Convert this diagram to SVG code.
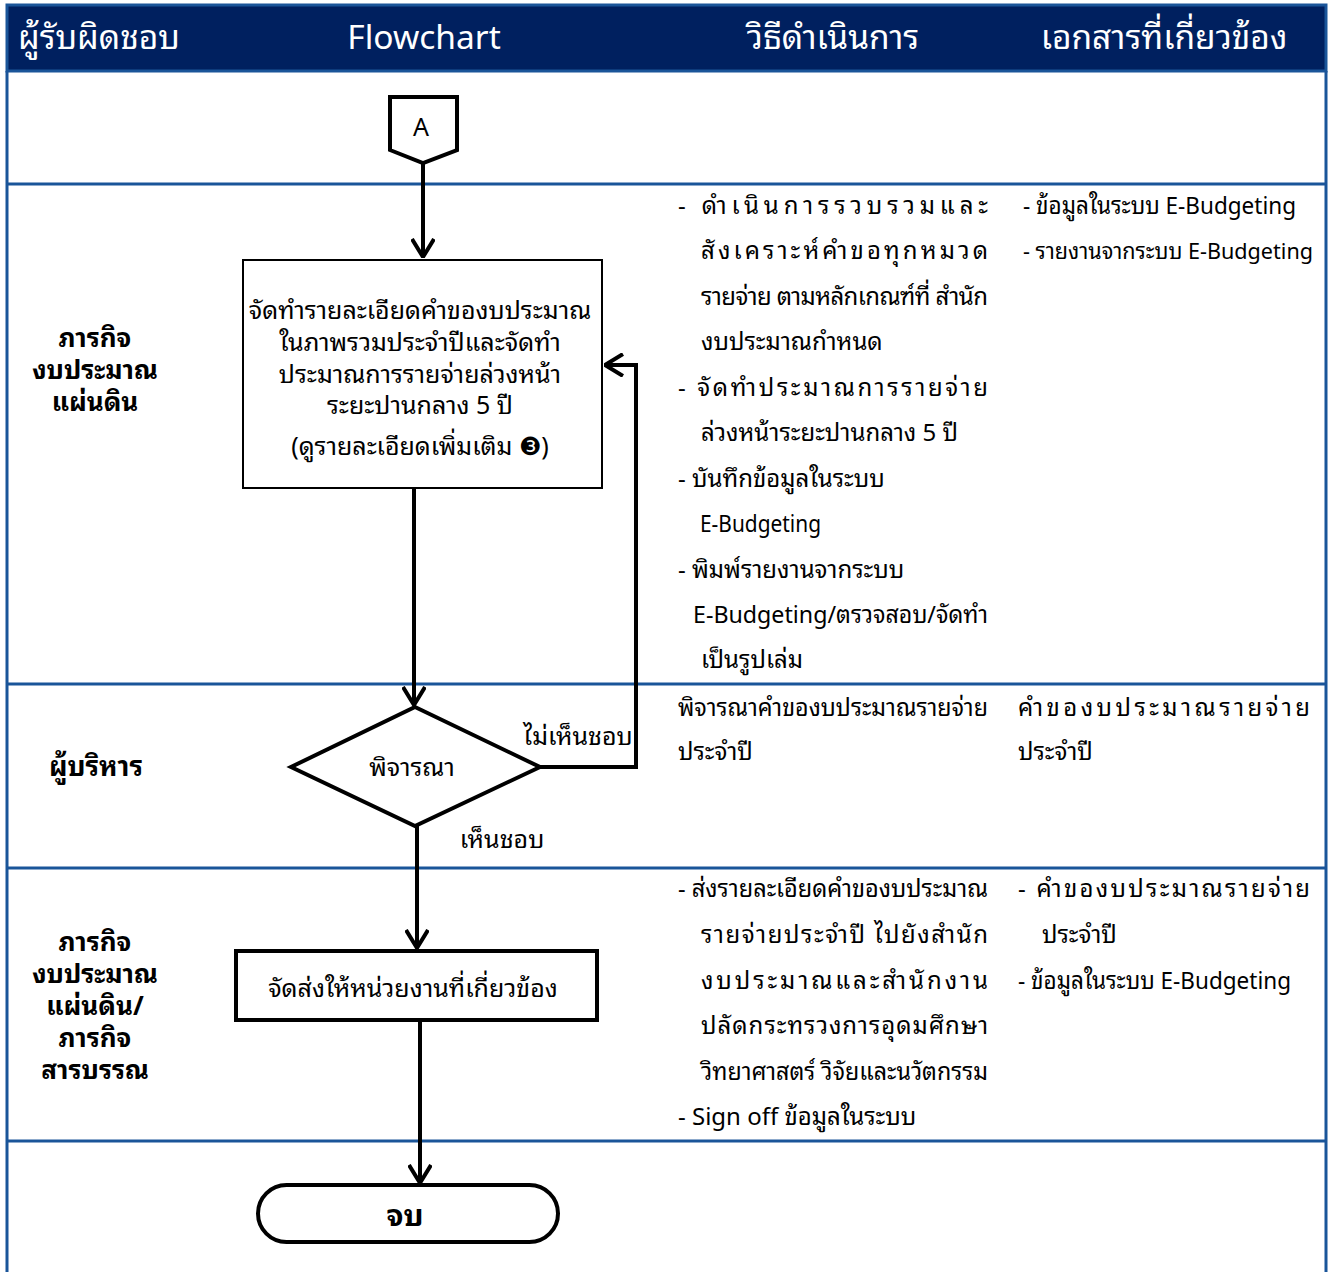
<svg xmlns="http://www.w3.org/2000/svg" width="1336" height="1272" viewBox="0 0 1336 1272">
  <defs>
    <style>
      .grid { stroke: #1a5599; stroke-width: 3; fill: none; }
      .hdr { fill: #ffffff; font-family: "Noto Sans Thai Looped", "Noto Sans Thai", "Noto Sans", "DejaVu Sans", sans-serif; font-size: 33.5px; }
      .lane { fill: #000; font-family: "Noto Sans Thai Looped", "Noto Sans Thai", "Noto Sans", "DejaVu Sans", sans-serif; font-size: 26px; font-weight: bold; text-anchor: middle; }
      .node { fill: #fff; stroke: #000; stroke-width: 3; }
      .ntxt { fill: #000; font-family: "Noto Sans Thai Looped", "Noto Sans Thai", "Noto Sans", "DejaVu Sans", sans-serif; font-size: 25px; text-anchor: middle; }
      .desc { fill: #000; font-family: "Noto Sans Thai Looped", "Noto Sans Thai", "Noto Sans", "DejaVu Sans", sans-serif; font-size: 24px; }
      .edge { stroke: #000; stroke-width: 4; fill: none; }
    </style>
    <marker id="arrow" viewBox="0 0 20 24" refX="19" refY="12" markerWidth="20" markerHeight="24" markerUnits="userSpaceOnUse" orient="auto">
      <path d="M1,1 L19,12 L1,23" fill="none" stroke="#000" stroke-width="4" stroke-linejoin="miter"/>
    </marker>
  </defs>

  <rect x="0" y="0" width="1336" height="1272" fill="#ffffff"/>

  <!-- header band -->
  <g id="header">
    <rect x="7" y="5" width="1319" height="66" fill="#00205f" stroke="#1a5599" stroke-width="3"/>
    <text class="hdr" x="18" y="49">ผู้รับผิดชอบ</text>
    <text class="hdr" x="424" y="49" text-anchor="middle">Flowchart</text>
    <text class="hdr" x="833" y="49" text-anchor="middle">วิธีดำเนินการ</text>
    <text class="hdr" x="1164" y="49" text-anchor="middle">เอกสารที่เกี่ยวข้อง</text>
  </g>

  <!-- table grid -->
  <g id="grid">
    <line class="grid" x1="7" y1="71" x2="7" y2="1272"/>
    <line class="grid" x1="1326" y1="71" x2="1326" y2="1272"/>
    <line class="grid" x1="7" y1="184" x2="1326" y2="184"/>
    <line class="grid" x1="7" y1="684" x2="1326" y2="684"/>
    <line class="grid" x1="7" y1="868" x2="1326" y2="868"/>
    <line class="grid" x1="7" y1="1141" x2="1326" y2="1141"/>
  </g>

  <!-- swimlane owners -->
  <g id="lanes">
    <text class="lane" x="95" y="347"><tspan x="95" y="347">ภารกิจ</tspan><tspan x="95" y="379">งบประมาณ</tspan><tspan x="95" y="411">แผ่นดิน</tspan></text>
    <text class="lane" x="96" y="776" style="font-size:27px">ผู้บริหาร</text>
    <text class="lane" x="95" y="951"><tspan x="95" y="951">ภารกิจ</tspan><tspan x="95" y="983">งบประมาณ</tspan><tspan x="95" y="1015">แผ่นดิน/</tspan><tspan x="95" y="1047">ภารกิจ</tspan><tspan x="95" y="1079">สารบรรณ</tspan></text>
  </g>

  <!-- connectors -->
  <g id="connectors">
    <line class="edge" x1="423" y1="163" x2="423" y2="257" marker-end="url(#arrow)"/>
    <line class="edge" x1="414" y1="488" x2="414" y2="705" marker-end="url(#arrow)"/>
    <polyline class="edge" points="540,767 636,767 636,365 605,365" marker-end="url(#arrow)"/>
    <line class="edge" x1="417" y1="826" x2="417" y2="948" marker-end="url(#arrow)"/>
    <line class="edge" x1="420" y1="1020" x2="420" y2="1183" marker-end="url(#arrow)"/>
    <text class="ntxt" x="578" y="745">ไม่เห็นชอบ</text>
    <text class="ntxt" x="502" y="848">เห็นชอบ</text>
  </g>

  <!-- off-page connector A -->
  <g id="node-a">
    <path class="node" d="M390,97 L457,97 L457,150 L423,163 L390,150 Z" style="stroke-width:4px"/>
    <text class="ntxt" x="421" y="136">A</text>
  </g>

  <!-- process: prepare budget request details -->
  <g id="node-prepare">
    <rect class="node" x="243" y="260" width="359" height="228" style="stroke-width:2px"/>
    <text class="ntxt" x="420" y="319"><tspan x="420" y="319">จัดทำรายละเอียดคำของบประมาณ</tspan><tspan x="420" y="351">ในภาพรวมประจำปีและจัดทำ</tspan><tspan x="420" y="383">ประมาณการรายจ่ายล่วงหน้า</tspan><tspan x="420" y="414">ระยะปานกลาง 5 ปี</tspan><tspan x="420" y="455">(ดูรายละเอียดเพิ่มเติม ❸)</tspan></text>
  </g>

  <!-- decision: consider -->
  <g id="node-consider">
    <polygon class="node" points="415,707 540,767 415,826 291,767" style="stroke-width:4px"/>
    <text class="ntxt" x="412" y="776">พิจารณา</text>
  </g>

  <!-- process: dispatch to related units -->
  <g id="node-dispatch">
    <rect class="node" x="236" y="951" width="361" height="69" style="stroke-width:4px"/>
    <text class="ntxt" x="413" y="997">จัดส่งให้หน่วยงานที่เกี่ยวข้อง</text>
  </g>

  <!-- terminator: end -->
  <g id="node-end">
    <rect class="node" x="258" y="1185" width="300" height="57" rx="28.5" ry="28.5" style="stroke-width:4px"/>
    <text class="ntxt" x="405" y="1226" style="font-weight:bold;font-size:30px">จบ</text>
  </g>

  <!-- procedure and document columns -->
  <g id="notes">
    <text class="desc" x="678" y="214" textLength="310" lengthAdjust="spacing">-  ดำเนินการรวบรวมและ</text>
    <text class="desc" x="701" y="259" textLength="287" lengthAdjust="spacing">สังเคราะห์คำขอทุกหมวด</text>
    <text class="desc" x="701" y="305" textLength="287" lengthAdjust="spacing">รายจ่าย ตามหลักเกณฑ์ที่ สำนัก</text>
    <text class="desc" x="701" y="350">งบประมาณกำหนด</text>
    <text class="desc" x="678" y="396" textLength="310" lengthAdjust="spacing">-  จัดทำประมาณการรายจ่าย</text>
    <text class="desc" x="701" y="441">ล่วงหน้าระยะปานกลาง 5 ปี</text>
    <text class="desc" x="678" y="487">- บันทึกข้อมูลในระบบ</text>
    <text class="desc" x="700" y="532" textLength="121" lengthAdjust="spacingAndGlyphs">E-Budgeting</text>
    <text class="desc" x="678" y="578">- พิมพ์รายงานจากระบบ</text>
    <text class="desc" x="693" y="623" textLength="295" lengthAdjust="spacingAndGlyphs">E-Budgeting/ตรวจสอบ/จัดทำ</text>
    <text class="desc" x="701" y="668">เป็นรูปเล่ม</text>

    <text class="desc" x="1023" y="214" textLength="273" lengthAdjust="spacingAndGlyphs">- ข้อมูลในระบบ E-Budgeting</text>
    <text class="desc" x="1023" y="259" textLength="290" lengthAdjust="spacingAndGlyphs" style="font-size:22px">- รายงานจากระบบ E-Budgeting</text>

    <text class="desc" x="678" y="716" textLength="310" lengthAdjust="spacingAndGlyphs">พิจารณาคำของบประมาณรายจ่าย</text>
    <text class="desc" x="678" y="760">ประจำปี</text>
    <text class="desc" x="1018" y="716" textLength="292" lengthAdjust="spacing">คำของบประมาณรายจ่าย</text>
    <text class="desc" x="1018" y="760">ประจำปี</text>

    <text class="desc" x="678" y="897" textLength="310" lengthAdjust="spacingAndGlyphs">- ส่งรายละเอียดคำของบประมาณ</text>
    <text class="desc" x="701" y="943" textLength="287" lengthAdjust="spacing">รายจ่ายประจำปี ไปยังสำนัก</text>
    <text class="desc" x="701" y="989" textLength="287" lengthAdjust="spacing">งบประมาณและสำนักงาน</text>
    <text class="desc" x="701" y="1034" textLength="287" lengthAdjust="spacing">ปลัดกระทรวงการอุดมศึกษา</text>
    <text class="desc" x="701" y="1080" textLength="287" lengthAdjust="spacingAndGlyphs">วิทยาศาสตร์ วิจัยและนวัตกรรม</text>
    <text class="desc" x="678" y="1125">- Sign off ข้อมูลในระบบ</text>

    <text class="desc" x="1018" y="897" textLength="292" lengthAdjust="spacing">-  คำของบประมาณรายจ่าย</text>
    <text class="desc" x="1042" y="943">ประจำปี</text>
    <text class="desc" x="1018" y="989" textLength="273" lengthAdjust="spacingAndGlyphs">- ข้อมูลในระบบ E-Budgeting</text>
  </g>
</svg>
